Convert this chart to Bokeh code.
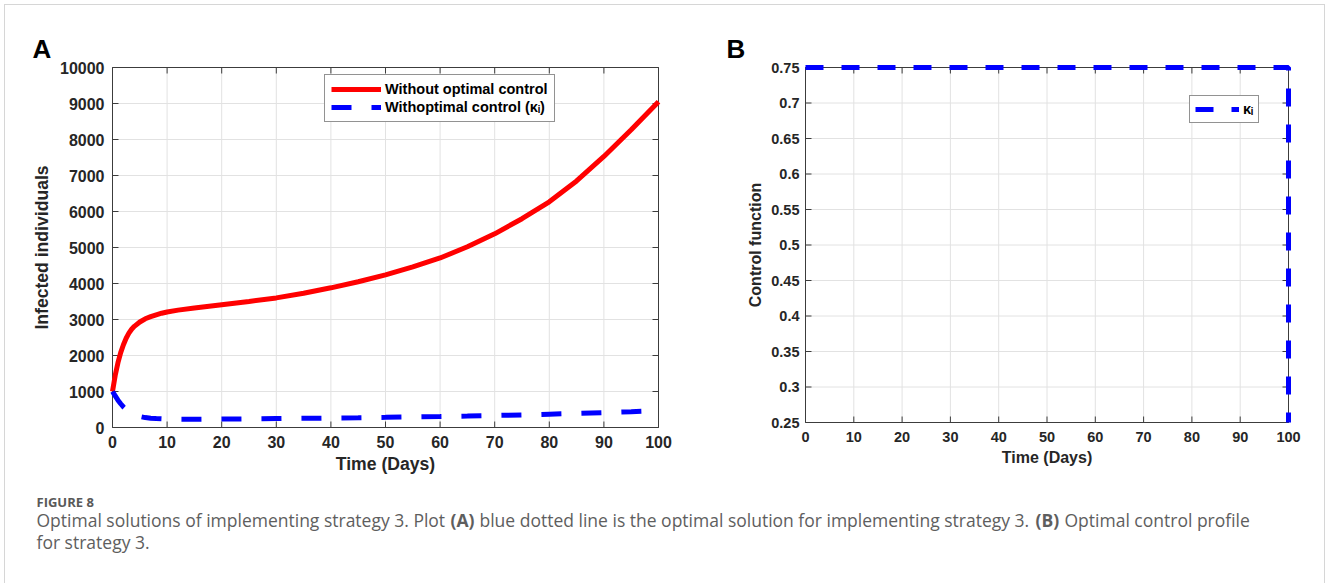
from bokeh.plotting import figure
from bokeh.models import (Range1d, FixedTicker, Legend, LegendItem, Label,
                          CustomJSTickFormatter, InlineStyleSheet)
from bokeh.layouts import column, row
from bokeh.embed import file_html
from bokeh.resources import INLINE

# ---- Panel A: infected individuals with and without optimal control ----
days_a = [0, 0.5, 1, 1.5, 2, 2.5, 3, 3.5, 4, 5, 6, 7, 8, 9, 10, 12, 15, 20,
          25, 30, 35, 40, 45, 50, 55, 60, 65, 70, 75, 80, 85, 90, 95, 100]
infected_no_control = [1000, 1450, 1800, 2080, 2300, 2480, 2620, 2730, 2810,
                       2930, 3020, 3080, 3130, 3175, 3210, 3260, 3320, 3410,
                       3500, 3600, 3730, 3880, 4050, 4240, 4460, 4710, 5020,
                       5380, 5800, 6270, 6850, 7530, 8270, 9050]
infected_control = [1000, 880, 760, 660, 570, 500, 440, 395, 355, 305, 275,
                    258, 247, 240, 236, 232, 230, 235, 240, 248, 255, 263,
                    272, 282, 293, 305, 318, 333, 350, 370, 390, 412, 440, 470]

# ---- Panel B: control profile kappa_I ----
days_b = [0, 100, 100]
control_kappa = [0.75, 0.75, 0.25]

x_ticks = [0, 10, 20, 30, 40, 50, 60, 70, 80, 90, 100]
y_ticks_a = [0, 1000, 2000, 3000, 4000, 5000, 6000, 7000, 8000, 9000, 10000]
y_ticks_b = [0.25, 0.3, 0.35, 0.4, 0.45, 0.5, 0.55, 0.6, 0.65, 0.7, 0.75]

FONT = "Liberation Sans"
INK = "#262626"
BOX = "#3c3c3c"
GRID = "#e2e2e2"
PAD = 4       # white margin between the axes box and the clipping frame
TICK_LEN = 6  # inward tick length, px

fmt = CustomJSTickFormatter(code="return String(Number(tick.toFixed(2)));")


def axes_panel(xticks, yticks, box, fig_size, tick_px, title_px,
               xstand, ystand, xtitle_stand, ytitle_stand,
               xlabel, ylabel, letter, letter_offset):
    """Figure whose axes box spans the first/last ticks; the frame is PAD px
    larger on each side so thick lines on the box edges are drawn whole."""
    left, top, bw, bh = box
    fw, fh = fig_size
    xlo, xhi = xticks[0], xticks[-1]
    ylo, yhi = yticks[0], yticks[-1]
    dx = PAD * (xhi - xlo) / bw
    dy = PAD * (yhi - ylo) / bh
    p = figure(frame_width=bw + 2 * PAD, frame_height=bh + 2 * PAD,
               x_range=Range1d(xlo - dx, xhi + dx), y_range=Range1d(ylo - dy, yhi + dy),
               min_border_left=left - PAD, min_border_top=top - PAD,
               min_border_right=fw - left - bw - PAD,
               min_border_bottom=fh - top - bh - PAD,
               output_backend="svg", toolbar_location=None)
    p.border_fill_color = None
    p.background_fill_color = "white"
    p.outline_line_color = None
    p.grid.visible = False

    # axes only carry the tick labels and titles
    for ax, ticks, stand, tstand in ((p.xaxis[0], xticks, xstand, xtitle_stand),
                                     (p.yaxis[0], yticks, ystand, ytitle_stand)):
        ax.ticker = FixedTicker(ticks=ticks)
        ax.formatter = fmt
        ax.axis_line_color = None
        ax.major_tick_line_color = None
        ax.major_tick_in = 0
        ax.major_tick_out = 0
        ax.minor_tick_line_color = None
        ax.major_label_text_font = FONT
        ax.major_label_text_font_style = "bold"
        ax.major_label_text_font_size = f"{tick_px}px"
        ax.major_label_text_color = INK
        ax.major_label_standoff = stand
        ax.axis_label_text_font = FONT
        ax.axis_label_text_font_style = "bold"
        ax.axis_label_text_font_size = f"{title_px}px"
        ax.axis_label_text_color = INK
        ax.axis_label_standoff = tstand
    p.xaxis[0].axis_label = xlabel
    p.yaxis[0].axis_label = ylabel

    # grid lines inside the box
    nx, ny = len(xticks), len(yticks)
    p.segment(x0=xticks, y0=[ylo] * nx, x1=xticks, y1=[yhi] * nx,
              line_color=GRID, line_width=1)
    p.segment(x0=[xlo] * ny, y0=yticks, x1=[xhi] * ny, y1=yticks,
              line_color=GRID, line_width=1)

    # inward ticks on all four sides
    tx = TICK_LEN * (xhi - xlo) / bw
    ty = TICK_LEN * (yhi - ylo) / bh
    p.segment(x0=xticks, y0=[ylo] * nx, x1=xticks, y1=[ylo + ty] * nx,
              line_color=BOX, line_width=1)
    p.segment(x0=xticks, y0=[yhi] * nx, x1=xticks, y1=[yhi - ty] * nx,
              line_color=BOX, line_width=1)
    p.segment(x0=[xlo] * ny, y0=yticks, x1=[xlo + tx] * ny, y1=yticks,
              line_color=BOX, line_width=1)
    p.segment(x0=[xhi] * ny, y0=yticks, x1=[xhi - tx] * ny, y1=yticks,
              line_color=BOX, line_width=1)

    # axes box
    p.quad(left=[xlo], right=[xhi], bottom=[ylo], top=[yhi],
           fill_color=None, line_color=BOX, line_width=1)

    p.title.text = letter
    p.title.align = "left"
    p.title.offset = letter_offset
    p.title.standoff = 0
    p.title.text_font = FONT
    p.title.text_font_style = "bold"
    p.title.text_font_size = "26px"
    p.title.text_color = "black"
    return p


def legend_style(lg, glyph_w, pad):
    lg.border_line_color = INK
    lg.border_line_width = 1
    lg.background_fill_color = "white"
    lg.background_fill_alpha = 1
    lg.label_text_font = FONT
    lg.label_text_font_style = "bold"
    lg.label_text_font_size = "14.5px"
    lg.label_text_color = "black"
    lg.glyph_width = glyph_w
    lg.glyph_height = 16
    lg.label_height = 16
    lg.label_width = 10
    lg.label_standoff = 4
    lg.spacing = 2
    lg.padding = pad
    lg.margin = 0


# ---------------- Panel A ----------------
pa = axes_panel(x_ticks, y_ticks_a, box=(112, 67, 546, 360), fig_size=(690, 480),
                tick_px=16, title_px=17.6, xstand=4, ystand=4,
                xtitle_stand=3, ytitle_stand=5,
                xlabel="Time (Days)", ylabel="Infected individuals",
                letter="A", letter_offset=-76)

r_red = pa.line(days_a, infected_no_control, line_color="#ff0000", line_width=5)
r_blue = pa.line(days_a, infected_control, line_color="#0000ff", line_width=5,
                 line_dash="20 20")

leg_a = Legend(items=[LegendItem(label="Without optimal control", renderers=[r_red]),
                      LegendItem(label="Withoptimal control (κᵢ)", renderers=[r_blue])],
               location=(216, 309))
legend_style(leg_a, 50, 6)
pa.add_layout(leg_a)

# ---------------- Panel B ----------------
pb = axes_panel(x_ticks, y_ticks_b, box=(805, 67, 483, 355), fig_size=(638, 480),
                tick_px=14.5, title_px=16, xstand=5, ystand=2,
                xtitle_stand=4, ytitle_stand=4,
                xlabel="Time (Days)", ylabel="Control function",
                letter="B", letter_offset=-75)
# shift panel B's local coordinates: its canvas starts at x=690
pb.min_border_left = 805 - 690 - PAD
pb.min_border_right = 1328 - 805 - 483 - PAD

r_k = pb.line(days_b, control_kappa, line_color="#0000ff", line_width=5,
              line_dash="18 18")

leg_b = Legend(items=[LegendItem(label="κᵢ", renderers=[r_k])], location=(388, 303))
legend_style(leg_b, 44, 5)
pb.add_layout(leg_b)

# ---------------- Caption ----------------
cap = figure(width=1328, height=103, x_range=Range1d(0, 1328), y_range=Range1d(0, 103),
             x_axis_type=None, y_axis_type=None, min_border=0,
             output_backend="svg", toolbar_location=None)
cap.border_fill_color = None
cap.background_fill_color = None
cap.outline_line_color = None
cap.grid.visible = False

CAP_FONT = "Open Sans"
CAP_COLOR = "#5e5e5e"
CAP_SIZE = "17.5px"


def cap_text(x, y, text, bold=False, size=CAP_SIZE, color=CAP_COLOR):
    cap.add_layout(Label(x=x, y=y, x_units="screen", y_units="screen", text=text,
                         text_font=CAP_FONT, text_font_size=size,
                         text_font_style="bold" if bold else "normal",
                         text_color=color, text_baseline="alphabetic"))


cap_text(36, 82, "FIGURE 8", bold=True, size="13px", color="#595959")
cap_text(36, 64, "Optimal solutions of implementing strategy 3. Plot")
cap_text(450, 64, "(A)", bold=True)
cap_text(479, 64, "blue dotted line is the optimal solution for implementing strategy 3.")
cap_text(1035, 64, "(B)", bold=True)
cap_text(1064, 64, "Optimal control profile")
cap_text(36, 42, "for strategy 3.")

frame_css = InlineStyleSheet(css="""
:host { position: relative; }
:host::before {
  content: ""; position: absolute; left: 4px; top: 4px; right: 3px; bottom: -20px;
  border: 1px solid #d6d6d6; pointer-events: none;
}
""")

page = column(row(pa, pb), cap, stylesheets=[frame_css])

with open("out.html", "w") as f:
    f.write(file_html(page, INLINE))
